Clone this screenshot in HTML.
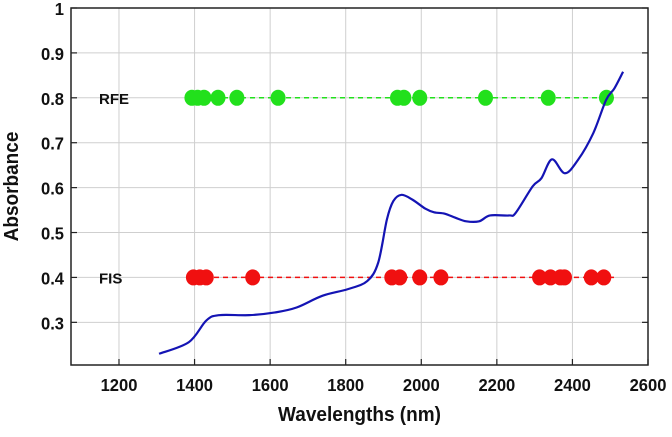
<!DOCTYPE html>
<html><head><meta charset="utf-8"><style>
body{margin:0;background:#fff}
svg text{font-family:"Liberation Sans",Arial,sans-serif;font-weight:bold;fill:#111}
</style></head><body>
<svg id="chart" width="672" height="432"></svg>
<script>
const xTicks=[1200,1400,1600,1800,2000,2200,2400,2600];
const yTicks=[0.3,0.4,0.5,0.6,0.7,0.8,0.9,1];
const yTickLabels=["0.3","0.4","0.5","0.6","0.7","0.8","0.9","1"];
const curveX=[1306,1385,1431,1465,1545,1613,1670,1738,1806,1857,1886,1909,1926,1948,1977,2011,2034,2062,2090,2119,2153,2182,2233,2250,2295,2318,2346,2380,2415,2455,2489,2511,2534];
const curveY=[0.230,0.256,0.304,0.316,0.316,0.322,0.333,0.359,0.374,0.392,0.433,0.529,0.570,0.584,0.573,0.553,0.545,0.542,0.533,0.525,0.525,0.538,0.538,0.544,0.603,0.621,0.663,0.632,0.662,0.721,0.795,0.821,0.858];
const rfeX=[1393,1408,1425,1462,1512,1621,1937,1954,1996,2170,2336,2490];
const rfeLevel=0.8;
const fisX=[1397,1414,1431,1554,1922,1943,1996,2052,2313,2342,2368,2379,2450,2483];
const fisLevel=0.4;
const lineRange=[1380,2510];

const L=71,R=648,T=8,B=365,xMin=1073,xMax=2600,yMin=0.205,yMax=1.0;
const sx=v=>L+(v-xMin)/(xMax-xMin)*(R-L);
const sy=v=>B-(v-yMin)/(yMax-yMin)*(B-T);
const svg=document.getElementById('chart');
const NS='http://www.w3.org/2000/svg';
function mk(tag,attrs,parent){const e=document.createElementNS(NS,tag);for(const k in attrs)e.setAttribute(k,attrs[k]);(parent||svg).appendChild(e);return e;}

const grid=mk('g',{});


xTicks.forEach(t=>{
  const l=mk('line',{x1:sx(t),x2:sx(t),y1:T,y2:B,stroke:'#cfcfcf','stroke-width':1},grid);
  
  
  const tk=mk('line',{x1:sx(t),x2:sx(t),y1:B,y2:B-6,stroke:'#222','stroke-width':1.2});
  
  
  const tx=mk('text',{x:0,y:0,'text-anchor':'middle','font-size':18,transform:`translate(${sx(t)},${B+26}) scale(0.92,1)`});
  tx.textContent=t;
  
  
});
yTicks.forEach((t,i)=>{
  const l=mk('line',{x1:L,x2:R,y1:sy(t),y2:sy(t),stroke:'#cfcfcf','stroke-width':1},grid);
  
  
  const tk=mk('line',{x1:L,x2:L+6,y1:sy(t),y2:sy(t),stroke:'#222','stroke-width':1.2});
  
  
  const tk2=mk('line',{x1:R,x2:R-6,y1:sy(t),y2:sy(t),stroke:'#222','stroke-width':1.2});
  
  
  const tx=mk('text',{x:0,y:0,'text-anchor':'end','font-size':18,transform:`translate(${L-7},${sy(t)+7}) scale(0.92,1)`});
  tx.textContent=yTickLabels[i];
  
  
});

function dotRow(xs,level,color,name,label){
  const g=mk('g',{});
  
  
  const ln=mk('line',{x1:sx(lineRange[0]),x2:sx(lineRange[1]),y1:sy(level),y2:sy(level),stroke:color,'stroke-width':1.5,'stroke-dasharray':'5,4'},g);
  
  
  xs.forEach(x=>{
    const c=mk('ellipse',{cx:sx(x),cy:sy(level),rx:7.5,ry:8,fill:color},g);
    
    
  });
  const t=mk('text',{x:99,y:sy(level)+6,'font-size':15});
  t.textContent=label;
  
  
}
dotRow(rfeX,rfeLevel,'#22e01c','rfe','RFE');
dotRow(fisX,fisLevel,'#f01010','fis','FIS');

const pts=curveX.map((x,i)=>[sx(x),sy(curveY[i])]);
let d='M'+pts[0][0]+','+pts[0][1];
for(let i=0;i<pts.length-1;i++){
  const p0=pts[i-1]||pts[i],p1=pts[i],p2=pts[i+1],p3=pts[i+2]||p2;
  const c1=[p1[0]+(p2[0]-p0[0])/6,p1[1]+(p2[1]-p0[1])/6];
  const c2=[p2[0]-(p3[0]-p1[0])/6,p2[1]-(p3[1]-p1[1])/6];
  d+=`C${c1[0]},${c1[1]} ${c2[0]},${c2[1]} ${p2[0]},${p2[1]}`;
}
const cv=mk('path',{d:d,fill:'none',stroke:'#1414b4','stroke-width':2.2});



const frame=mk('rect',{x:L,y:T,width:R-L,height:B-T,fill:'none',stroke:'#222','stroke-width':1.5});



const xt=mk('text',{x:0,y:0,'text-anchor':'middle','font-size':20,transform:`translate(${(L+R)/2},421) scale(0.95,1)`});
xt.textContent='Wavelengths (nm)';


const yt=mk('text',{x:0,y:0,'text-anchor':'middle','font-size':20,transform:`translate(18,${(T+B)/2}) rotate(-90) scale(0.95,1)`});
yt.textContent='Absorbance';


</script>
</body></html>
